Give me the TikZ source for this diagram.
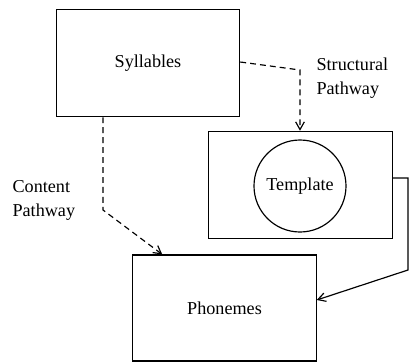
\documentclass[tikz,border=0pt]{standalone}
\usepackage{fontspec}
\setmainfont{Liberation Serif}
\usetikzlibrary{arrows.meta, positioning}

\begin{document}
\begin{tikzpicture}[x=0.03cm, y=-0.03cm, line width=1pt,
    font=\fontsize{15.5}{18}\selectfont,
    unit/.style={rectangle, draw, minimum width=5.5cm, minimum height=3.22cm},
    path/.style={dashed, dash pattern=on 5pt off 3.5pt, -{Straight Barb[length=2.3mm, width=2.6mm]}},
    feed/.style={-{Straight Barb[length=2.3mm, width=2.6mm]}},
    lbl/.style={anchor=west, inner sep=0pt}]
    % Frame of the picture
    \useasboundingbox (0,0) rectangle (411,362);

    % The three units
    \node[unit] (syl) at (148,63) {Syllables};
    \node[unit] (tpl) at (300.5,185) {};
    \node[circle, draw, minimum size=2.76cm, inner sep=0pt] (tmpl) at (300,186) {Template};
    \node[unit, minimum height=3.18cm] (pho) at (224.5,308) {Phonemes};

    % Structural pathway
    \coordinate (sbend) at (300,70);
    \draw[path] ([yshift=0.03cm]syl.east) -- (sbend) -- (tpl.north -| sbend);
    \node[lbl] (struct) at (316,64) {Structural};
    \node[lbl] (spath) at (316,90) {Pathway};

    % Content pathway
    \coordinate (cbend) at (103,210);
    \draw[path] (syl.south -| cbend) -- (cbend) -- ([xshift=0.9cm]pho.north west);
    \node[lbl] (cont) at (12,187) {Content};
    \node[lbl] (cpath) at (12,212) {Pathway};

    % Template feeds phonemes
    \coordinate (rbend) at (408,270);
    \draw[feed] ([yshift=0.21cm]tpl.east) -| (rbend) -- ([yshift=0.24cm]pho.east);
\end{tikzpicture}
\end{document}
